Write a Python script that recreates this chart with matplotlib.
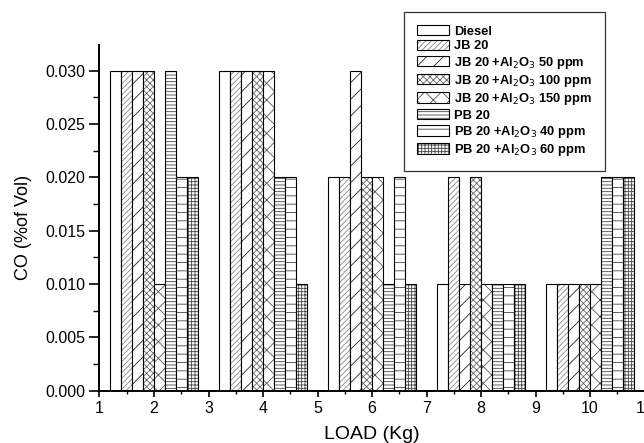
import matplotlib
matplotlib.use('Agg')
import matplotlib.pyplot as plt
import numpy as np
from matplotlib.ticker import MultipleLocator

plt.rcParams['font.family'] = ['Liberation Sans', 'DejaVu Sans']
plt.rcParams['hatch.linewidth'] = 0.6

# CO emission (% of volume) at each engine load
loads = [2, 4, 6, 8, 10]
labels = ['Diesel', 'JB 20',
          'JB 20 +Al$_2$O$_3$ 50 ppm',
          'JB 20 +Al$_2$O$_3$ 100 ppm',
          'JB 20 +Al$_2$O$_3$ 150 ppm',
          'PB 20',
          'PB 20 +Al$_2$O$_3$ 40 ppm',
          'PB 20 +Al$_2$O$_3$ 60 ppm']
diesel = [0.030, 0.030, 0.020, 0.010, 0.010]
jb20 = [0.030, 0.030, 0.020, 0.020, 0.010]
jb20_50 = [0.030, 0.030, 0.030, 0.010, 0.010]
jb20_100 = [0.030, 0.030, 0.020, 0.020, 0.010]
jb20_150 = [0.010, 0.030, 0.020, 0.010, 0.010]
pb20 = [0.030, 0.020, 0.010, 0.010, 0.020]
pb20_40 = [0.020, 0.020, 0.020, 0.010, 0.020]
pb20_60 = [0.020, 0.010, 0.010, 0.010, 0.020]
series = [diesel, jb20, jb20_50, jb20_100, jb20_150, pb20, pb20_40, pb20_60]

hatches = ['', '//////', '//', 'xxxxx', 'xx', '-----', '--', '+++++']
hatch_cols = ['black', '#888888', '#222222', '#666666', '#555555',
              '#444444', '#444444', '#444444']

fig = plt.figure(figsize=(6.44, 4.43), dpi=100)
ax = fig.add_axes([0.1545, 0.1183, 0.8463, 0.7801])

width = 0.2
x = np.array(loads, dtype=float)
handles = []
for i, vals in enumerate(series):
    pos = x + (i - 3.5) * width
    # hatch first, then a black outline on top
    b1 = ax.bar(pos, vals, width, color='white', edgecolor=hatch_cols[i],
                hatch=hatches[i], linewidth=0)
    b2 = ax.bar(pos, vals, width, fill=False, edgecolor='black', linewidth=0.8)
    handles.append((b1, b2))

ax.set_xlim(1, 11)
ax.set_ylim(0, 0.0324)
ax.xaxis.set_major_locator(MultipleLocator(1))
ax.xaxis.set_minor_locator(MultipleLocator(0.5))
ax.yaxis.set_major_locator(MultipleLocator(0.005))
ax.yaxis.set_minor_locator(MultipleLocator(0.0025))
ax.yaxis.set_major_formatter(plt.FormatStrFormatter('%.3f'))

ax.spines['top'].set_visible(False)
ax.spines['right'].set_visible(False)
ax.spines['left'].set_linewidth(1.4)
ax.spines['bottom'].set_linewidth(1.4)
ax.tick_params(axis='x', which='major', direction='out', length=4.5, width=1.2,
               labelsize=11.5, pad=3)
ax.tick_params(axis='x', which='minor', direction='out', length=2, width=1.0)
ax.tick_params(axis='y', which='major', direction='out', length=7.5, width=1.2,
               labelsize=11.5, pad=3)
ax.tick_params(axis='y', which='minor', direction='out', length=4.5, width=1.0)

ax.set_xlabel('LOAD (Kg)', fontsize=14, labelpad=7)
ax.set_ylabel('CO (%of Vol)', fontsize=13, labelpad=9)
ax.yaxis.label.set_y(0.473)

leg = ax.legend(handles, labels, loc='upper left', bbox_to_anchor=(0.5587, 1.096),
                borderaxespad=0, fontsize=9.3, frameon=True, fancybox=False,
                handlelength=2.45, handleheight=0.9, handletextpad=0.45,
                labelspacing=0.16, borderpad=1.0)
leg.get_frame().set_edgecolor('black')
leg.get_frame().set_linewidth(0.9)
for t in leg.get_texts():
    t.set_fontweight('bold')

fig.savefig('out.png', dpi=100)
